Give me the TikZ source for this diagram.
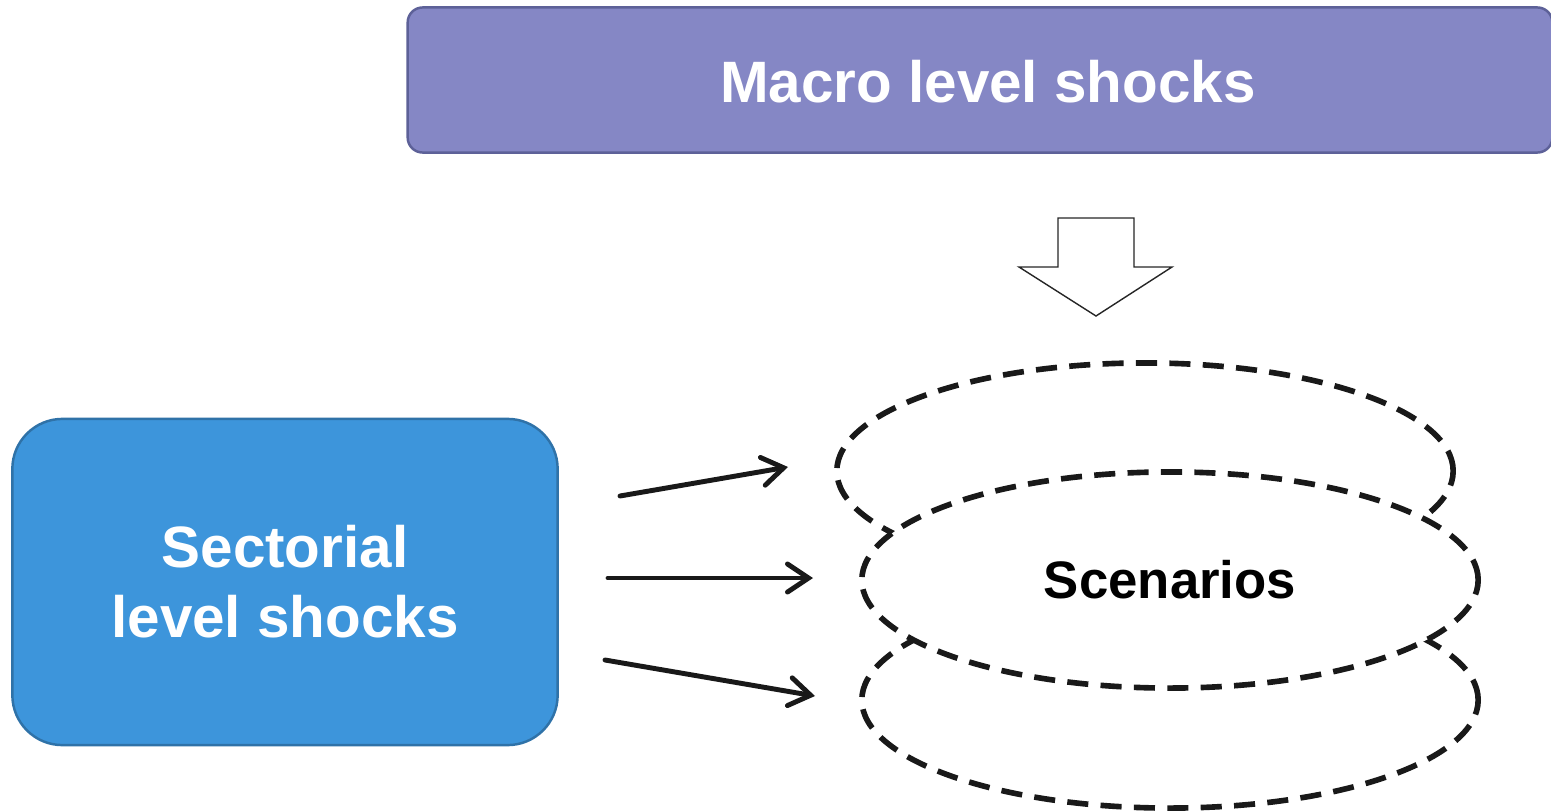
\documentclass[tikz,border=0pt]{standalone}
\usepackage{fontspec}
\setmainfont{Liberation Sans}
\usetikzlibrary{arrows.meta,shapes.geometric}
\definecolor{macroFill}{HTML}{8587C5}
\definecolor{macroLine}{HTML}{5D6198}
\definecolor{sectorFill}{HTML}{3D95DB}
\definecolor{sectorLine}{HTML}{2F72A8}
\tikzset{
  level box/.style={draw, line width=0.7pt, text=white, align=center,
    font=\bfseries\fontsize{16.6}{19.9}\selectfont},
  scenario/.style={ellipse, draw=black!90, fill=white, line width=1.6pt,
    dash pattern=on 6pt off 3.5pt, minimum width=6.16cm, minimum height=2.16cm},
  shock arrow/.style={-{Straight Barb[length=6pt,width=8pt,line cap=round]},
    draw=black!90, line width=1.4pt, line cap=round}
}

\begin{document}
\begin{tikzpicture}[x=0.01cm,y=-0.01cm]
\useasboundingbox (0,0) rectangle (1551,812);

% macro level
\node[level box, draw=macroLine, fill=macroFill, rounded corners=0.15cm,
  minimum width=11.44cm, minimum height=1.45cm, text depth=0pt] (macro) at (980,80) {};
\node[text=white, font=\bfseries\fontsize{16.6}{19.9}\selectfont] (macroText) at (988,82) {Macro level shocks};

% sectorial level
\node[level box, draw=sectorLine, fill=sectorFill, rounded corners=0.5cm,
  minimum width=5.45cm, minimum height=3.26cm] (sector) at (285,582) {Sectorial\\level shocks};

% scenarios
\node[scenario] (scenTop) at (1145,471) {};
\node[scenario] (scenBot) at (1170,700) {};
\node[scenario, font=\bfseries\fontsize{15}{18}\selectfont] (scenMid) at (1170,580) {Scenarios};

% block arrow from macro to scenarios
\draw[draw=black!85, line width=0.4pt, fill=white]
  (1058,218) -- (1134,218) -- (1134,267) -- (1172,267) -- (1096,316)
  -- (1019,267) -- (1058,267) -- cycle;

% arrows from sectorial box
\coordinate (a1s) at (620,496); \coordinate (a1e) at (788,467);
\coordinate (a2s) at (608,578); \coordinate (a2e) at (813,578);
\coordinate (a3s) at (605,660); \coordinate (a3e) at (815,696);
\draw[shock arrow] (a1s) -- (a1e);
\draw[shock arrow] (a2s) -- (a2e);
\draw[shock arrow] (a3s) -- (a3e);
\end{tikzpicture}
\end{document}
